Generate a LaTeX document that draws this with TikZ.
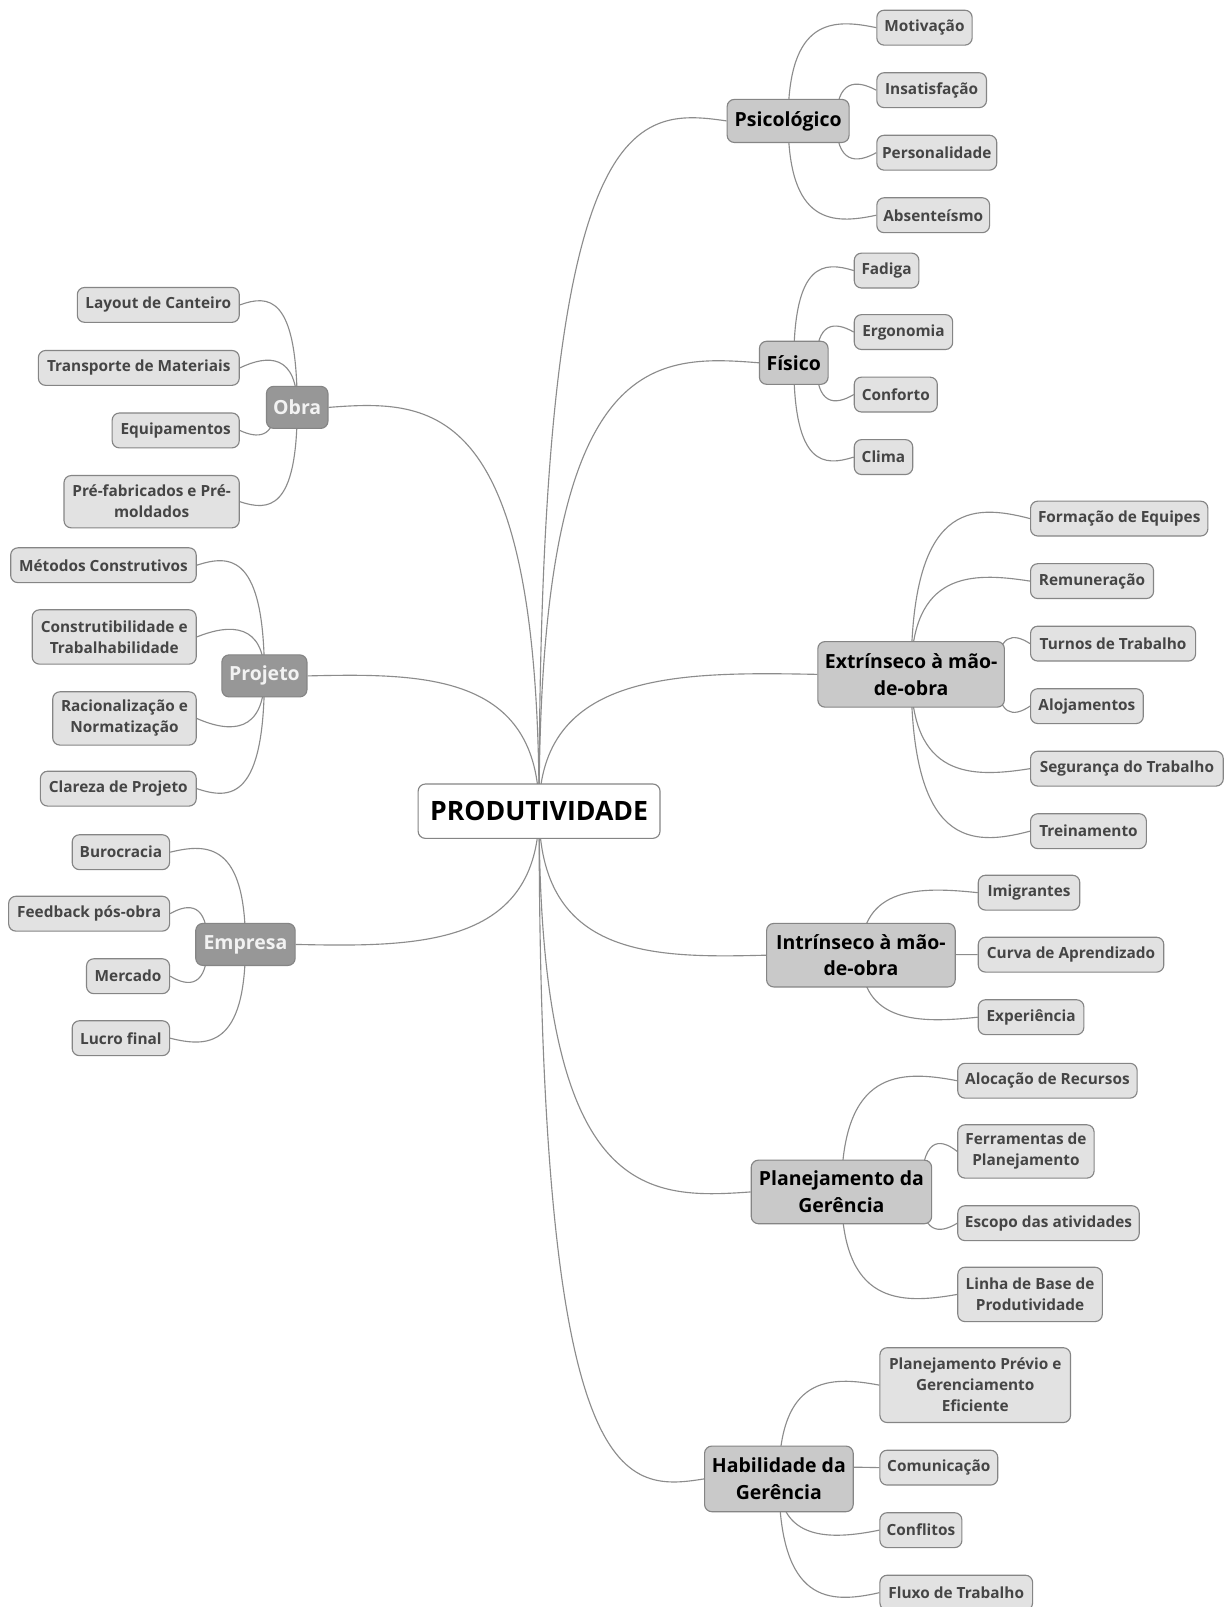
\documentclass[tikz,border=0pt]{standalone}
\usepackage{fontspec}
\setmainfont{Open Sans}
\usetikzlibrary{calc,backgrounds}

\definecolor{leaffill}{HTML}{E2E2E2}
\definecolor{leaftext}{HTML}{454545}
\definecolor{rimgray}{HTML}{858585}
\definecolor{topicfill}{HTML}{C9C9C9}
\definecolor{sidefill}{HTML}{979797}
\definecolor{sidetext}{HTML}{F2F2F2}
\definecolor{linkgray}{HTML}{8C8C8C}

\newcommand\leaffont{\fontsize{15}{20.5}\selectfont\bfseries}
\newcommand\topicfont{\fontsize{19}{26}\selectfont\bfseries}
\newcommand\rootfont{\fontsize{26}{30}\selectfont\bfseries}

% curved connector: leaves the parent (centre, shifted sideways by #5)
% vertically, bulges past the child's level by the factor #4 and enters
% the child's side #3 horizontally
\newcommand\linkto[5]{%
  \draw[link] let \p1=($(#1.center)+(#5,0)$), \p2=(#2.#3) in
    (\p1) .. controls (\x1,{\y2+#4*(\y2-\y1)})
             and ({0.5*\x1+0.5*\x2},{\y2+#4*(\y2-\y1)}) .. (\p2);}

\tikzset{
  box/.style={draw=rimgray, line width=1.1pt, rounded corners=7pt,
              inner sep=2pt, align=center},
  leaf/.style={box, fill=leaffill, text=leaftext, font=\leaffont,
               minimum width=#1, minimum height=34},
  topic/.style={box, fill=topicfill, text=black, font=\topicfont,
                minimum width=#1, minimum height=42},
  sidetopic/.style={box, fill=sidefill, text=sidetext, font=\topicfont,
                    minimum width=#1, minimum height=41},
  rootbox/.style={box, fill=white, text=black, font=\rootfont,
                  minimum width=236, minimum height=53},
  link/.style={draw=linkgray, line width=1.1pt}
}

\begin{document}
\begin{tikzpicture}[x=1pt,y=-1pt]
\useasboundingbox (0,0) rectangle (1201,1568);

% central topic
\node[rootbox] (root) at (526,791.5) {PRODUTIVIDADE};

% main branches on the right
\node[topic=119] (psi) at (769,118) {Psicológico};
\node[topic=67]  (fis) at (774.5,354) {Físico};
\node[topic=182, minimum height=64] (ext) at (889,658) {Extrínseco à mão-\\de-obra};
\node[topic=184, minimum height=62] (int) at (840,932) {Intrínseco à mão-\\de-obra};
\node[topic=176, minimum height=62] (pla) at (821,1163) {Planejamento da\\Gerência};
\node[topic=145, minimum height=64] (hab) at (760,1443) {Habilidade da\\Gerência};

% main branches on the left
\node[sidetopic=60] (obra) at (290,397.5) {Obra};
\node[sidetopic=83] (proj) at (258,659.5) {Projeto};
\node[sidetopic=97] (emp)  at (239.5,921.5) {Empresa};

% Psicológico
\node[leaf=93,  anchor=west] (mot) at (855,27)  {Motivação};
\node[leaf=107, anchor=west] (ins) at (855,88)  {Insatisfação};
\node[leaf=117, anchor=west] (per) at (855,149) {Personalidade};
\node[leaf=110, anchor=west] (abs) at (855,210) {Absenteísmo};

% Físico
\node[leaf=63, anchor=west] (fad) at (833,264) {Fadiga};
\node[leaf=96, anchor=west] (erg) at (833,324) {Ergonomia};
\node[leaf=81, anchor=west] (con) at (833,385) {Conforto};
\node[leaf=57, anchor=west] (cli) at (833,446) {Clima};

% Extrínseco à mão-de-obra
\node[leaf=173, anchor=west] (for) at (1005,506) {Formação de Equipes};
\node[leaf=120, anchor=west] (rem) at (1005,567) {Remuneração};
\node[leaf=161, anchor=west] (tur) at (1005,628) {Turnos de Trabalho};
\node[leaf=110, anchor=west] (alo) at (1005,689) {Alojamentos};
\node[leaf=188, anchor=west] (seg) at (1005,750) {Segurança do Trabalho};
\node[leaf=113, anchor=west] (tre) at (1005,811) {Treinamento};

% Intrínseco à mão-de-obra
\node[leaf=99,  anchor=west] (imi) at (954,871)   {Imigrantes};
\node[leaf=181, anchor=west] (cur) at (954,931.5) {Curva de Aprendizado};
\node[leaf=103, anchor=west] (exp) at (954,992.5) {Experiência};

% Planejamento da Gerência
\node[leaf=175, anchor=west] (alc) at (934,1054.5) {Alocação de Recursos};
\node[leaf=133, anchor=west, minimum height=52] (fer) at (934,1123.5) {Ferramentas de\\Planejamento};
\node[leaf=177, anchor=west] (esc) at (934,1193.5) {Escopo das atividades};
\node[leaf=141, anchor=west, minimum height=53] (lin) at (934,1263) {Linha de Base de\\Produtividade};

% Habilidade da Gerência
\node[leaf=186, anchor=west, minimum height=73] (ppg) at (858,1351.5) {Planejamento Prévio e\\Gerenciamento\\Eficiente};
\node[leaf=115, anchor=west] (com) at (858,1432) {Comunicação};
\node[leaf=80,  anchor=west] (cnf) at (858,1493) {Conflitos};
\node[leaf=149, anchor=west] (flu) at (858,1554) {Fluxo de Trabalho};

% Obra
\node[leaf=158, anchor=east] (lay) at (234,297.5) {Layout de Canteiro};
\node[leaf=196, anchor=east] (tra) at (234,359)   {Transporte de Materiais};
\node[leaf=124, anchor=east] (equ) at (234,420)   {Equipamentos};
\node[leaf=171, anchor=east, minimum height=51] (pre) at (234,489.5) {Pré-fabricados e Pré-\\moldados};

% Projeto
\node[leaf=181, anchor=east] (met) at (192,551.5) {Métodos Construtivos};
\node[leaf=160, anchor=east, minimum height=53] (ctb) at (192,621.5) {Construtibilidade e\\Trabalhabilidade};
\node[leaf=140, anchor=east, minimum height=52] (rac) at (192,701) {Racionalização e\\Normatização};
\node[leaf=152, anchor=east] (cla) at (192,769.5) {Clareza de Projeto};

% Empresa
\node[leaf=95,  anchor=east] (bur) at (166,831.5)  {Burocracia};
\node[leaf=157, anchor=east] (fee) at (166,891.5)  {Feedback pós-obra};
\node[leaf=81,  anchor=east] (mer) at (166,952.5)  {Mercado};
\node[leaf=95,  anchor=east] (luc) at (166,1013)   {Lucro final};

% white page and connectors, kept behind the boxes
\begin{scope}[on background layer]
  \fill[white] (0,0) rectangle (1201,1568);
  \foreach \t in {psi,fis,ext,int,pla,hab} {\linkto{root}{\t}{west}{0.02}{0}}
  \foreach \t in {obra,proj,emp} {\linkto{root}{\t}{east}{0.02}{0}}
  \foreach \t/\k/\s in {mot/0.1/0, ins/0.35/47, per/0.35/47, abs/0.1/0}
    {\linkto{psi}{\t}{west}{\k}{\s}}
  \foreach \t/\k/\s in {fad/0.1/0, erg/0.35/22, con/0.35/22, cli/0.1/0}
    {\linkto{fis}{\t}{west}{\k}{\s}}
  \foreach \t/\k/\s in {for/0.1/0, rem/0.1/0, tur/0.35/84, alo/0.35/84,
                        seg/0.1/0, tre/0.1/0}
    {\linkto{ext}{\t}{west}{\k}{\s}}
  \foreach \t/\k/\s in {imi/0.1/0, cur/0/0, exp/0.1/0}
    {\linkto{int}{\t}{west}{\k}{\s}}
  \foreach \t/\k/\s in {alc/0.1/0, fer/0.35/78, esc/0.35/78, lin/0.1/0}
    {\linkto{pla}{\t}{west}{\k}{\s}}
  \foreach \t/\k/\s in {ppg/0.1/0, com/0.1/0, cnf/0.2/0, flu/0.1/0}
    {\linkto{hab}{\t}{west}{\k}{\s}}
  \foreach \t/\k/\s in {lay/0.1/0, tra/0.35/0, equ/0.35/-22, pre/0.1/0}
    {\linkto{obra}{\t}{east}{\k}{\s}}
  \foreach \t/\k/\s in {met/0.1/0, ctb/0.35/0, rac/0.35/0, cla/0.1/0}
    {\linkto{proj}{\t}{east}{\k}{\s}}
  \foreach \t/\k/\s in {bur/0.1/0, fee/0.35/-37, mer/0.35/-37, luc/0.1/0}
    {\linkto{emp}{\t}{east}{\k}{\s}}
\end{scope}
\end{tikzpicture}
\end{document}
